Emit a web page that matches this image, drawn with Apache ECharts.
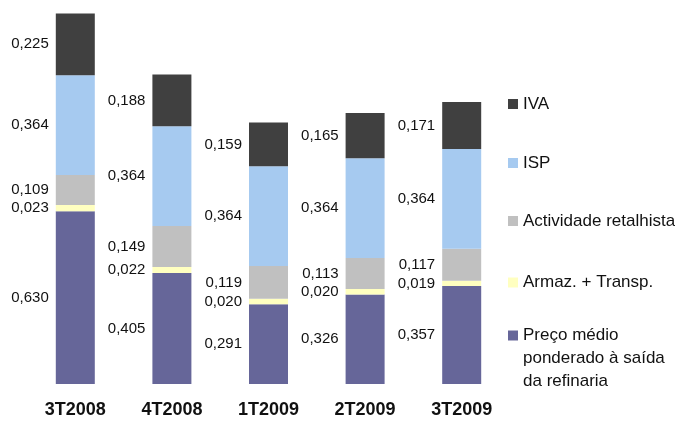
<!DOCTYPE html>
<html>
<head>
<meta charset="utf-8">
<script src="https://cdn.jsdelivr.net/npm/echarts@6/dist/echarts.min.js"></script>
<style>
  html, body { margin: 0; padding: 0; background: #fff; }
  #chart { width: 675px; height: 421px; }
</style>
</head>
<body>
<div id="chart"></div>
<script>
// trimestres
const quarters = ['3T2008', '4T2008', '1T2009', '2T2009', '3T2009'];

// componentes do preço (de baixo para cima)
const precoRefinaria = [0.630, 0.405, 0.291, 0.326, 0.357];
const armazTransp = [0.023, 0.022, 0.020, 0.020, 0.019];
const actividadeRetalhista = [0.109, 0.149, 0.119, 0.113, 0.117];
const isp = [0.364, 0.364, 0.364, 0.364, 0.364];
const iva = [0.225, 0.188, 0.159, 0.165, 0.171];

const NAME_PRECO = 'Preço médio\nponderado à saída\nda refinaria';

const chart = echarts.init(document.getElementById('chart'));

const fmt = p => p.value.toFixed(3).replace('.', ',');

function barSeries(name, data, color) {
  return {
    name: name,
    type: 'bar',
    stack: 'total',
    barWidth: 39,
    data: data,
    itemStyle: { color: color },
    label: {
      show: true,
      position: 'left',
      distance: 7,
      formatter: fmt,
      color: '#111',
      fontSize: 15,
      fontFamily: 'Liberation Sans, Arial, sans-serif'
    }
  };
}

// uma legenda por item, para acertar as posições verticais
function legendAt(name, top, formatter) {
  const lg = {
    data: [name],
    left: 508,
    top: top,
    padding: 0,
    icon: 'rect',
    itemWidth: 10,
    itemHeight: 10,
    selectedMode: false,
    textStyle: {
      color: '#111',
      fontSize: 17,
      lineHeight: 23,
      fontFamily: 'Liberation Sans, Arial, sans-serif'
    }
  };
  if (formatter) lg.formatter = formatter;
  return lg;
}

const option = {
  animation: false,
  backgroundColor: '#fff',
  grid: { left: 27, width: 483, top: 0, bottom: 37 },
  legend: [
    legendAt('IVA', 92.5),
    legendAt('ISP', 151.5),
    legendAt('Actividade retalhista', 209.5),
    legendAt('Armaz. + Transp.', 271),
    // duas linhas vazias antes: o ícone fica alinhado com "Preço médio"
    legendAt(NAME_PRECO, 278, n => '\n\n' + n)
  ],
  xAxis: {
    type: 'category',
    data: quarters,
    axisLine: { show: false },
    axisTick: { show: false },
    axisLabel: {
      margin: 17,
      color: '#111',
      fontSize: 18,
      fontWeight: 'bold',
      fontFamily: 'Liberation Sans, Arial, sans-serif'
    }
  },
  yAxis: {
    type: 'value',
    min: 0,
    max: 1.4,
    show: false
  },
  series: [
    barSeries(NAME_PRECO, precoRefinaria, '#666699'),
    barSeries('Armaz. + Transp.', armazTransp, '#ffffc0'),
    barSeries('Actividade retalhista', actividadeRetalhista, '#c0c0c0'),
    barSeries('ISP', isp, '#a6caf0'),
    barSeries('IVA', iva, '#404040')
  ]
};

chart.setOption(option);
</script>
</body>
</html>
